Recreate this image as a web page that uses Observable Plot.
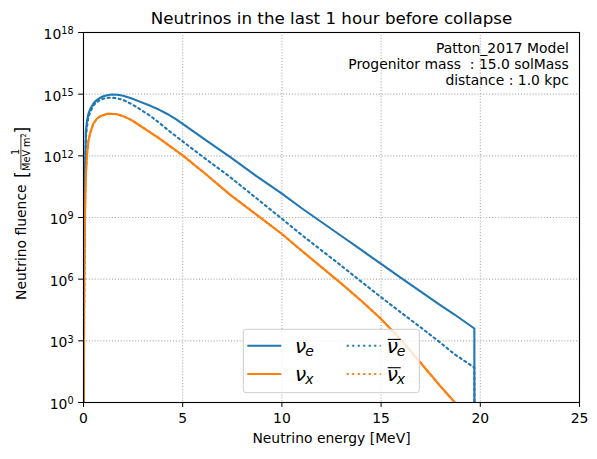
<!DOCTYPE html>
<html>
<head>
<meta charset="utf-8">
<script src="https://cdn.jsdelivr.net/npm/d3@7"></script>
<script src="https://cdn.jsdelivr.net/npm/@observablehq/plot@0.6"></script>
<style>
  html, body { margin: 0; padding: 0; background: #fff; }
  svg text { white-space: pre; }
</style>
</head>
<body>
<div id="chart"></div>
<script>
// Neutrino energy grid [MeV]
const energy = [0.01, 0.03, 0.06, 0.12, 0.18, 0.25, 0.35, 0.5, 0.65, 0.8, 1.0, 1.2, 1.4, 1.7, 2.0, 2.4, 2.8, 3.4, 3.8, 4.2, 4.6, 5.0, 6.2, 7.4, 8.7, 10.0, 11.0, 13.0, 14.0, 15.0, 16.0, 17.0, 18.0, 18.7, 19.7, 19.71];

// Fluence per flavour [1/(MeV m^2)]
const nuE = [0.1, 1e6, 3.16e10, 1.58e13, 5.25e13, 1.12e14, 2.0e14, 3.55e14, 5.01e14, 6.31e14, 7.94e14, 8.91e14, 9.55e14, 9.33e14, 8.32e14, 6.31e14, 4.47e14, 2.63e14, 1.78e14, 1.12e14, 6.61e13, 3.55e13, 5.5e12, 8.71e11, 1.05e11, 1.45e10, 2.82e9, 1.26e8, 2.63e7, 5.5e6, 1.17e6, 2.45e5, 5.37e4, 1.91e4, 3.98e3, 1e-3];
const nuX = [0.1, 3.16e4, 3.16e8, 1.26e11, 1.26e12, 5.62e12, 1.41e13, 3.72e13, 6.03e13, 7.94e13, 9.55e13, 1.10e14, 1.12e14, 1.05e14, 8.51e13, 5.62e13, 3.16e13, 1.32e13, 7.24e12, 3.8e12, 2.0e12, 1.05e12, 1.2e11, 1.26e10, 1.41e9, 1.58e8, 2.4e7, 6.03e5, 8.91e4, 1.15e4, 1.12e3, 83.2, 6.03, 1.05, 0.063, 1e-3];
const nuEBar = [0.1, 1e5, 1e10, 7.94e12, 2.82e13, 7.94e13, 1.41e14, 2.82e14, 3.98e14, 5.01e14, 6.03e14, 6.61e14, 6.76e14, 6.31e14, 5.25e14, 3.39e14, 2.0e14, 8.32e13, 4.17e13, 2.0e13, 1.0e13, 5.01e12, 6.61e11, 9.12e10, 8.91e9, 8.71e8, 1.41e8, 4.47e6, 7.59e5, 1.32e5, 2.4e4, 4.47e3, 794, 224, 50.1, 1e-3];
const nuXBar = [0.1, 3.16e4, 3.16e8, 1.26e11, 1.26e12, 5.62e12, 1.41e13, 3.72e13, 6.03e13, 7.94e13, 9.55e13, 1.10e14, 1.12e14, 1.05e14, 8.51e13, 5.62e13, 3.16e13, 1.32e13, 7.24e12, 3.8e12, 2.0e12, 1.05e12, 1.2e11, 1.26e10, 1.41e9, 1.58e8, 2.4e7, 6.03e5, 8.91e4, 1.15e4, 1.12e3, 83.2, 6.03, 1.05, 0.063, 1e-3];

const xTicks = [0, 5, 10, 15, 20, 25];
const yTicks = [1, 1e3, 1e6, 1e9, 1e12, 1e15, 1e18];

const titleText = "Neutrinos in the last 1 hour before collapse";
const infoText = "Patton_2017 Model\nProgenitor mass  : 15.0 solMass\ndistance : 1.0 kpc";
const xLabel = "Neutrino energy [MeV]";

const BLUE = "#1f77b4", ORANGE = "#ff7f0e";
const LW = 2.1, DOT = "2.1,3.4";

const rows = values => energy.map((e, i) => ({energy: e, value: values[i]}));

const flavours = [
  {values: nuE,    stroke: BLUE,   dash: null, sub: "e", bar: false},
  {values: nuX,    stroke: ORANGE, dash: null, sub: "x", bar: false},
  {values: nuEBar, stroke: BLUE,   dash: DOT,  sub: "e", bar: true},
  {values: nuXBar, stroke: ORANGE, dash: DOT,  sub: "x", bar: true}
];

const grid = {stroke: "#b0b0b0", strokeOpacity: 1, strokeWidth: 1.1, strokeDasharray: "1.1,1.8"};

const chart = Plot.plot({
  width: 597,
  height: 459,
  marginTop: 32,
  marginBottom: 57,
  marginLeft: 83,
  marginRight: 18,
  style: {fontFamily: "DejaVu Sans", fontSize: "13.9px", color: "black", background: "white"},
  x: {domain: [0, 25], ticks: xTicks, tickSize: 4.9, tickPadding: 6, tickFormat: d => String(d), label: null},
  y: {type: "log", domain: [1, 1e18], ticks: yTicks, tickSize: 4.9, tickPadding: 5,
      tickFormat: d => "10^" + Math.round(Math.log10(d)), label: null},
  marks: [
    Plot.ruleX(xTicks, {x: d => d, ...grid}),
    Plot.ruleY(yTicks, {y: d => d, ...grid}),
    ...flavours.map(f => Plot.line(rows(f.values), {
      x: "energy", y: "value", stroke: f.stroke, strokeWidth: LW,
      strokeDasharray: f.dash || undefined, clip: true
    })),
    Plot.frame({stroke: "black", strokeWidth: 1.1}),
    Plot.text([titleText], {frameAnchor: "top", lineAnchor: "top", dy: -20, fontSize: 16.7, fill: "black"}),
    Plot.text([infoText], {frameAnchor: "top-right", textAnchor: "end", lineAnchor: "top",
      dx: -10.7, dy: 9.7, lineHeight: 1.13, fontSize: 13.9, fill: "black"}),
    Plot.text([xLabel], {frameAnchor: "bottom", lineAnchor: "top", dy: 31, fontSize: 13.9, fill: "black"})
  ]
});

document.getElementById("chart").appendChild(chart);

const svg = d3.select(chart);

// Power-of-ten tick labels: "10" with a raised exponent
svg.selectAll("g[aria-label='y-axis tick label'] text").each(function() {
  const t = d3.select(this);
  const s = t.text();
  if (!s.includes("^")) return;
  const [base, exp] = s.split("^");
  t.text(null);
  t.append("tspan").attr("dy", "2.2").text(base);
  t.append("tspan").attr("dy", "-4.7").attr("font-size", "9.7px").text(exp);
});

// Y-axis label with a stacked 1/(MeV m^2) unit, reading bottom to top
{
  const g = svg.append("g")
    .attr("transform", "translate(25.5,300) rotate(-90)")
    .attr("font-family", "DejaVu Sans")
    .attr("text-anchor", "start")
    .attr("fill", "black");
  g.append("text").attr("font-size", "13.9px").attr("x", 0).text("Neutrino fluence");
  g.append("text").attr("font-size", "17px").attr("x", 122).attr("y", 2.5).text("[");
  const fx = 130, fw = 36;
  g.append("text").attr("font-size", "9.7px").attr("text-anchor", "middle")
    .attr("x", fx + fw / 2).attr("y", -6.4).text("1");
  g.append("line").attr("x1", fx + 0.5).attr("x2", fx + fw - 0.5)
    .attr("y1", -4.6).attr("y2", -4.6).attr("stroke", "black").attr("stroke-width", 0.8);
  const den = g.append("text").attr("font-size", "9.7px").attr("text-anchor", "middle")
    .attr("x", fx + fw / 2).attr("y", 4);
  den.append("tspan").text("MeV m");
  den.append("tspan").attr("font-size", "6.8px").attr("dy", -3.5).text("2");
  g.append("text").attr("font-size", "17px").attr("x", fx + fw + 0.5).attr("y", 2.5).text("]");
}

// Legend (two columns: neutrinos, anti-neutrinos)
{
  const lg = svg.append("g").attr("font-family", "DejaVu Sans").attr("text-anchor", "start");
  lg.append("rect")
    .attr("x", 243.3).attr("y", 329.3).attr("width", 176).attr("height", 63.4).attr("rx", 3)
    .attr("fill", "white").attr("fill-opacity", 0.8)
    .attr("stroke", "#cccccc").attr("stroke-width", 1);
  const rowY = [345.7, 374];
  const handleX = [247.3, 346.7];
  const labelX = [295, 386.7];
  flavours.forEach(f => {
    const col = f.bar ? 1 : 0;
    const row = f.sub === "e" ? 0 : 1;
    const y = rowY[row];
    lg.append("line")
      .attr("x1", handleX[col]).attr("x2", handleX[col] + 34)
      .attr("y1", y).attr("y2", y)
      .attr("stroke", f.stroke).attr("stroke-width", LW)
      .attr("stroke-dasharray", f.dash);
    const baseY = y + 7.4;
    const t = lg.append("text").attr("x", labelX[col]).attr("y", baseY)
      .attr("font-size", "20px").attr("font-style", "italic").attr("fill", "black");
    t.append("tspan").text("ν");
    t.append("tspan").attr("font-size", "14px").attr("dy", 3).attr("dx", -1).text(f.sub);
    if (f.bar) {
      lg.append("line")
        .attr("x1", labelX[col] + 1).attr("x2", labelX[col] + 14)
        .attr("y1", baseY - 13.7).attr("y2", baseY - 13.7)
        .attr("stroke", "black").attr("stroke-width", 1.1);
    }
  });
}
</script>
</body>
</html>
